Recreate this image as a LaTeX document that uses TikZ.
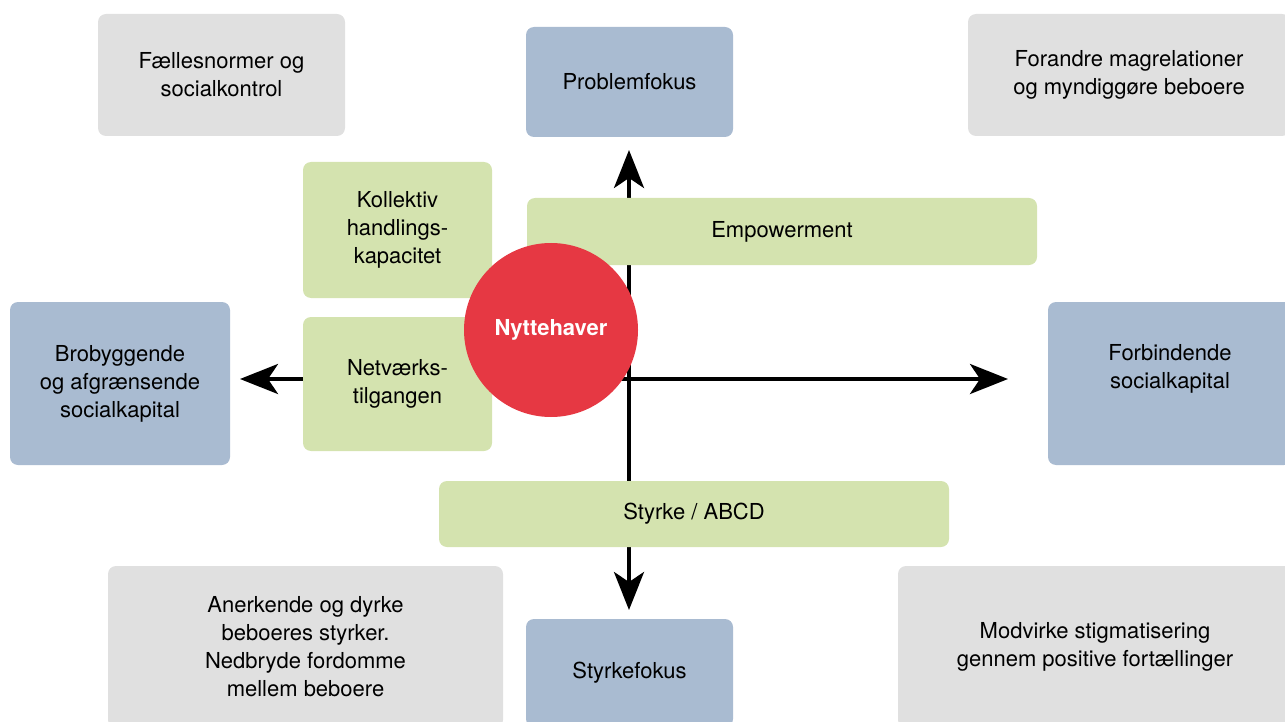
\documentclass[tikz,border=0pt]{standalone}
\usepackage{fontspec}
\setmainfont{TeX Gyre Heros}
\usetikzlibrary{arrows.meta}

\definecolor{greybox}{HTML}{E0E0E0}
\definecolor{bluebox}{HTML}{A9BBD1}
\definecolor{greenbox}{HTML}{D4E3AF}
\definecolor{redcirc}{HTML}{E63843}

\begin{document}
\begin{tikzpicture}[x=1pt,y=-1pt,
  font=\fontsize{22}{28}\selectfont,
  box/.style={rectangle,rounded corners=8pt,inner sep=0pt,align=center},
  grey/.style={box,fill=greybox},
  blue/.style={box,fill=bluebox},
  green/.style={box,fill=greenbox},
  axis/.style={line width=4pt,{Stealth[length=38pt,width=30pt,inset=10pt]}-{Stealth[length=38pt,width=30pt,inset=10pt]}}]
\useasboundingbox (0,0) rectangle (1285,722);
\clip (0,0) rectangle (1285,722);

\path (629,150) coordinate (up)
  (629,610) coordinate (down)
  (240,379) coordinate (left)
  (1008,379) coordinate (right);
\draw[axis] (down) -- (up);
\draw[axis] (left) -- (right);

\path node[grey,minimum width=247pt,minimum height=122pt] at (221.5,75) (normer) {Fællesnormer og\\socialkontrol}
  node[grey,minimum width=322pt,minimum height=122pt] at (1129,75) (magt) {Forandre magrelationer\\og myndiggøre beboere}
  node[grey,minimum width=395pt,minimum height=162pt] at (305.5,647) (anerkend) {Anerkende og dyrke\\beboeres styrker.\\Nedbryde fordomme\\mellem beboere}
  node[grey,minimum width=394pt,minimum height=162pt] at (1095,647) (stigma) {Modvirke stigmatisering\\gennem positive fortællinger}
  node[blue,minimum width=207pt,minimum height=110pt] at (629.5,82) (problem) {Problemfokus}
  node[blue,minimum width=207pt,minimum height=108pt] at (629.5,673) (styrkefokus) {Styrkefokus}
  node[blue,minimum width=220pt,minimum height=163pt] at (120,383.5) (brobyg) {Brobyggende\\og afgrænsende\\socialkapital}
  node[blue,minimum width=244pt,minimum height=163pt] at (1170,383.5) (forbind) {}
  node[align=center] at (1170,369) (forbindtxt) {Forbindende\\socialkapital};

\path node[green,minimum width=189pt,minimum height=136pt] at (397.5,230) (kollektiv) {Kollektiv\\handlings-\\kapacitet}
  node[green,minimum width=189pt,minimum height=134pt] at (397.5,384) (netvaerk) {Netværks-\\tilgangen}
  node[green,minimum width=510pt,minimum height=67pt] at (782,231.5) (empower) {Empowerment}
  node[green,minimum width=510pt,minimum height=66pt] at (694,514) (styrke) {Styrke / ABCD};

\node[circle,fill=redcirc,minimum size=174pt,inner sep=0pt,text=white,font=\fontsize{22}{28}\selectfont\bfseries] at (551,330) (nytte) {Nyttehaver};
\end{tikzpicture}
\end{document}
